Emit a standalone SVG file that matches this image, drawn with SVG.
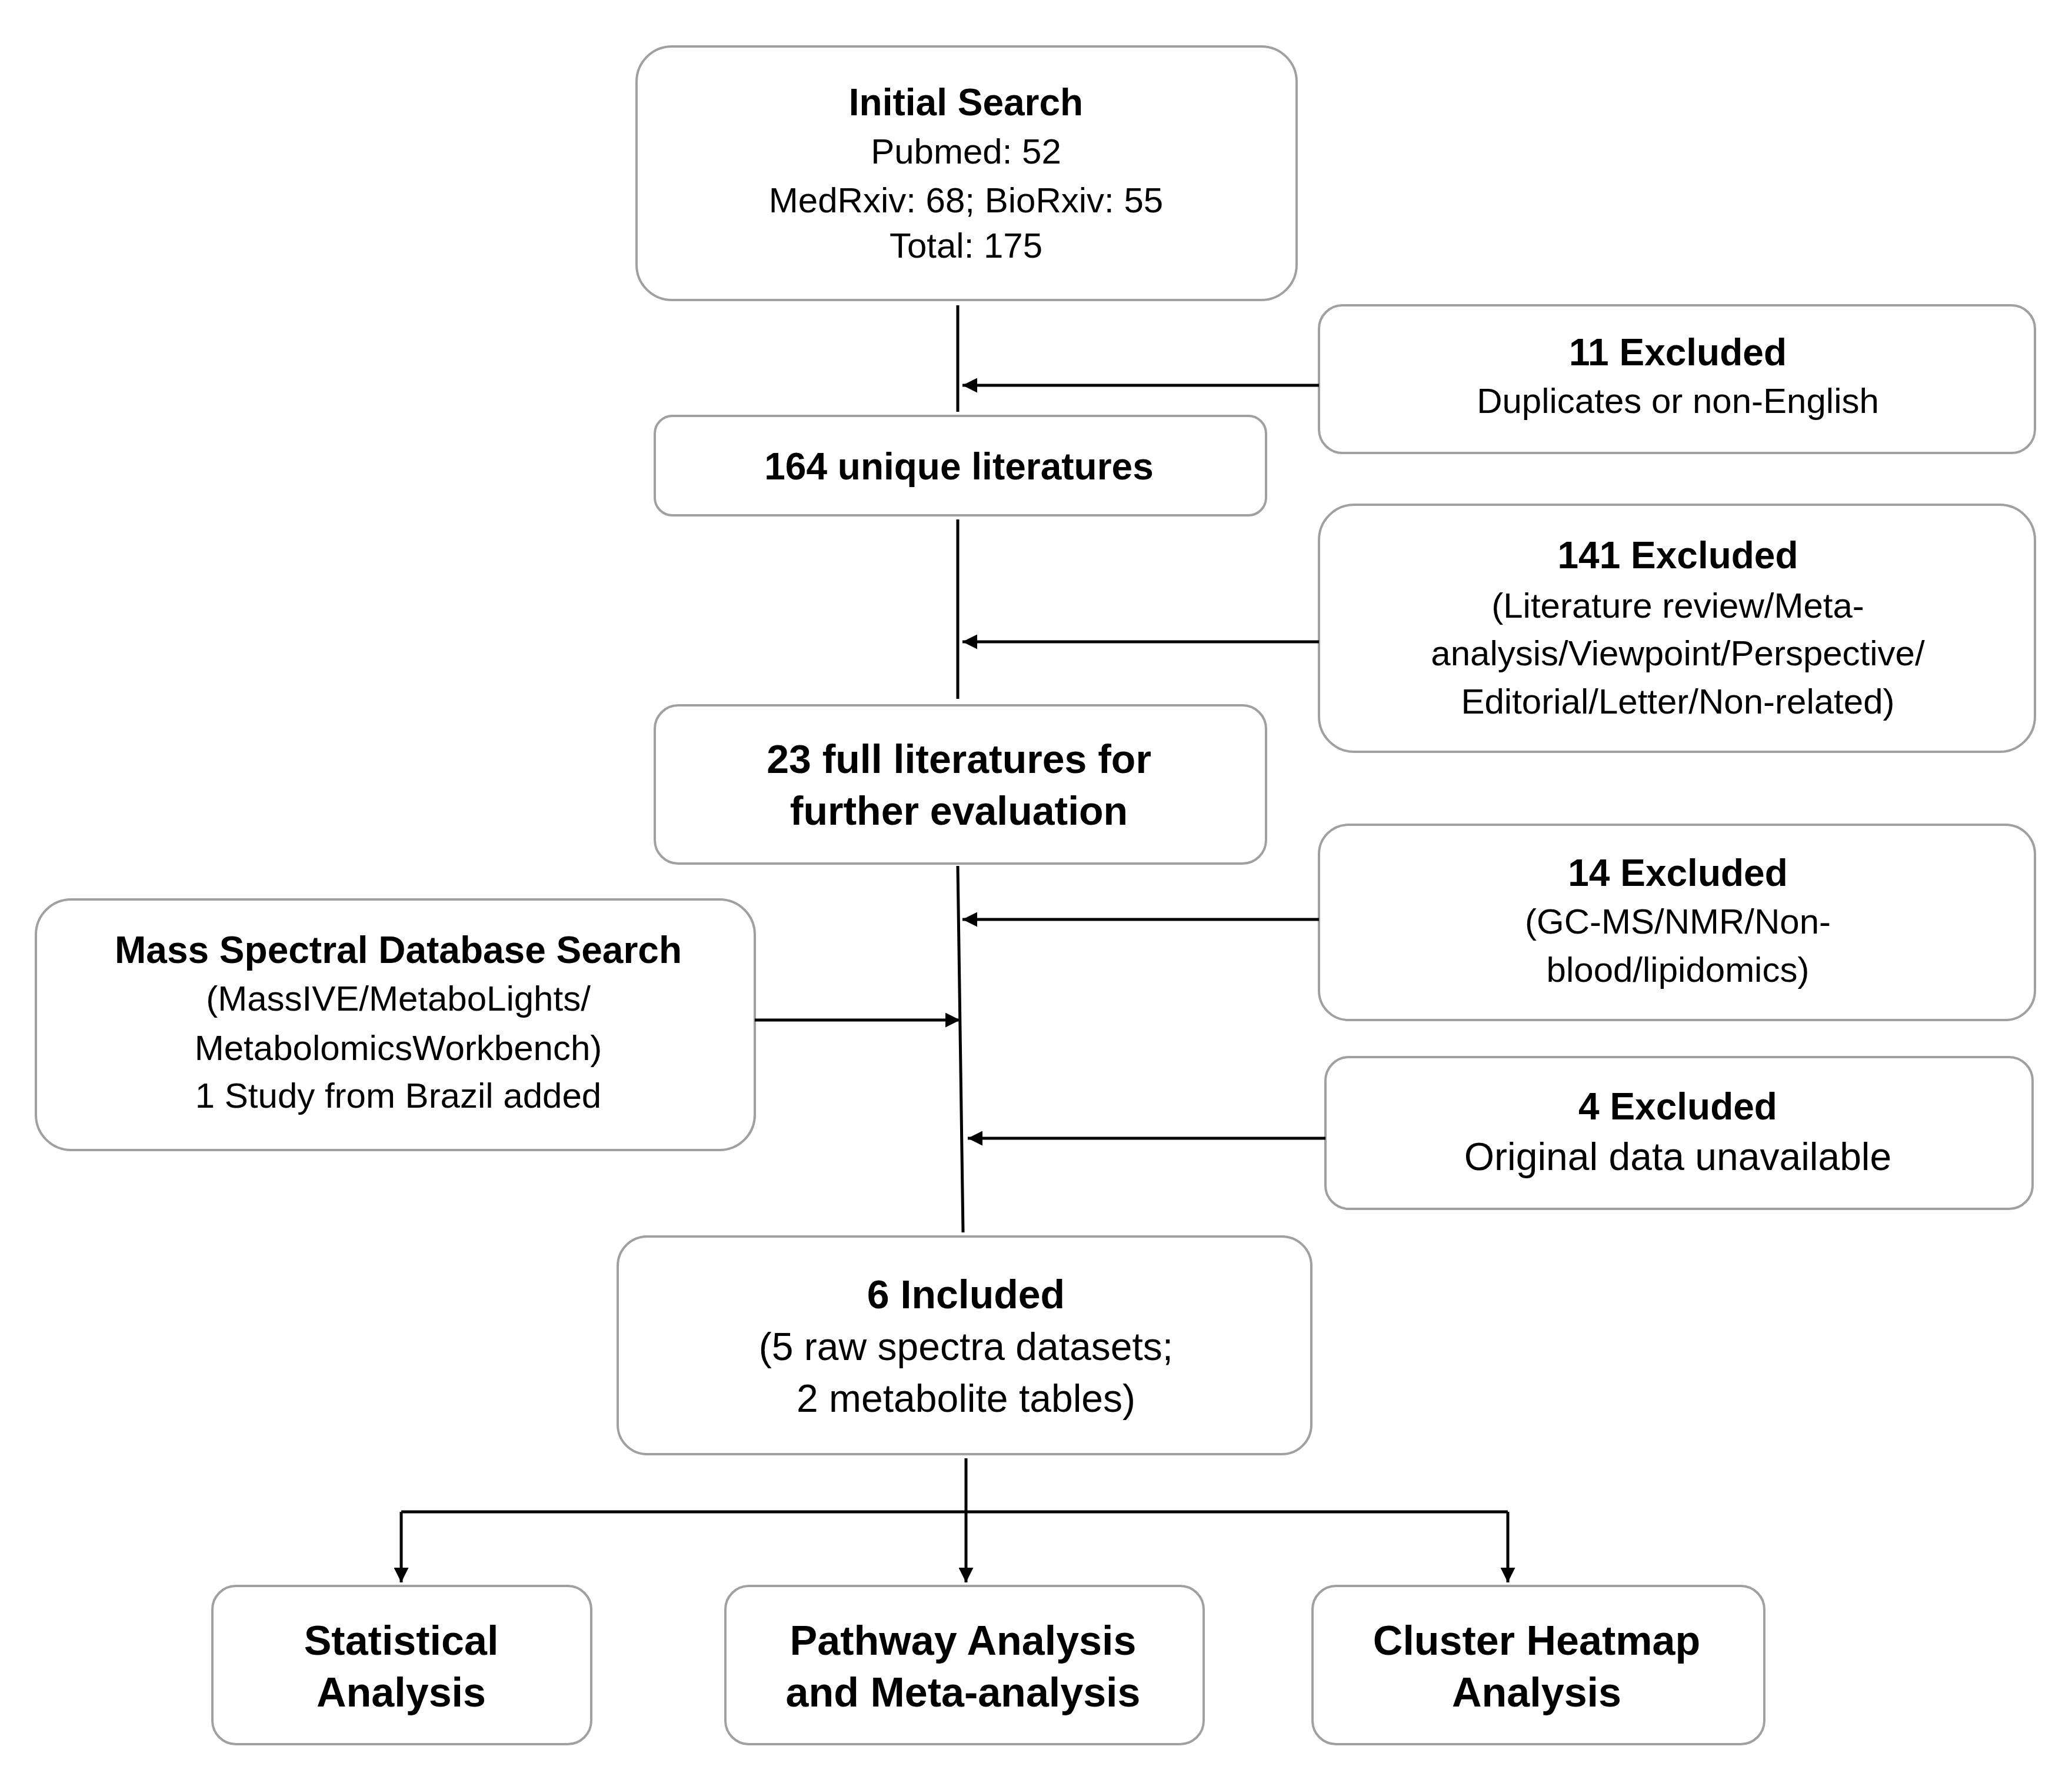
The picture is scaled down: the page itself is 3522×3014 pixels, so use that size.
<svg xmlns="http://www.w3.org/2000/svg" width="3522" height="3014" viewBox="0 0 3522 3014">
<style>
.b{fill:#fff;stroke:#a0a0a0;stroke-width:4}
text{font-family:"Liberation Sans",Arial,sans-serif;fill:#000;text-anchor:middle}
.t{font-weight:bold;font-size:64px}
.n{font-size:60px}
.c{stroke:#000;stroke-width:5;fill:none}
</style>
<defs><marker id="a" viewBox="0 0 10 10" refX="10" refY="5" markerWidth="10" markerHeight="10" markerUnits="userSpaceOnUse" orient="auto"><path d="M0,0L10,5L0,10z"/></marker>
<marker id="m" viewBox="0 0 10 10" refX="10" refY="5" markerWidth="5" markerHeight="5" orient="auto"><path d="M0,0L10,5L0,10z" fill="#000"/></marker></defs>
<g id="n1"><rect class="b" x="1082" y="79" width="1122" height="431" rx="60"/><text class="t" x="1642" y="196">Initial Search</text><text class="n" x="1642" y="278">Pubmed: 52</text><text class="n" x="1642" y="361">MedRxiv: 68; BioRxiv: 55</text><text class="n" x="1642" y="438">Total: 175</text></g>
<g id="n2"><rect class="b" x="2242" y="519" width="1217" height="251" rx="40"/><text class="t" x="2852" y="621">11 Excluded</text><text class="n" x="2852" y="702">Duplicates or non-English</text></g>
<g id="n3"><rect class="b" x="1113" y="707" width="1039" height="169" rx="30"/><text class="t" x="1630" y="815">164 unique literatures</text></g>
<g id="n4"><rect class="b" x="2242" y="858" width="1217" height="420" rx="60"/><text class="t" x="2852" y="966">141 Excluded</text><text class="n" x="2852" y="1050">(Literature review/Meta-</text><text class="n" x="2852" y="1131">analysis/Viewpoint/Perspective/</text><text class="n" x="2852" y="1213">Editorial/Letter/Non-related)</text></g>
<g id="n5"><rect class="b" x="1113" y="1199" width="1039" height="269" rx="40"/><text class="t" x="1630" y="1314" style="font-size:68px">23 full literatures for</text><text class="t" x="1630" y="1402" style="font-size:68px">further evaluation</text></g>
<g id="n6"><rect class="b" x="2242" y="1402" width="1217" height="332" rx="50"/><text class="t" x="2852" y="1506">14 Excluded</text><text class="n" x="2852" y="1587">(GC-MS/NMR/Non-</text><text class="n" x="2852" y="1669">blood/lipidomics)</text></g>
<g id="n7"><rect class="b" x="61" y="1529" width="1222" height="426" rx="60"/><text class="t" x="677" y="1637">Mass Spectral Database Search</text><text class="n" x="677" y="1718">(MassIVE/MetaboLights/</text><text class="n" x="677" y="1802">MetabolomicsWorkbench)</text><text class="n" x="677" y="1883">1 Study from Brazil added</text></g>
<g id="n8"><rect class="b" x="2253" y="1797" width="1202" height="258" rx="40"/><text class="t" x="2852" y="1903">4 Excluded</text><text class="n" x="2852" y="1989" style="font-size:66px">Original data unavailable</text></g>
<g id="n9"><rect class="b" x="1050" y="2102" width="1179" height="370" rx="50"/><text class="t" x="1642" y="2224" style="font-size:68px">6 Included</text><text class="n" x="1642" y="2312" style="font-size:66px">(5 raw spectra datasets;</text><text class="n" x="1642" y="2400" style="font-size:66px">2 metabolite tables)</text></g>
<g id="n10"><rect class="b" x="361" y="2696" width="644" height="269" rx="40"/><text class="t" x="682" y="2813" style="font-size:70px">Statistical</text><text class="t" x="682" y="2901" style="font-size:70px">Analysis</text></g>
<g id="n11"><rect class="b" x="1233" y="2696" width="813" height="269" rx="40"/><text class="t" x="1637" y="2813" style="font-size:70px">Pathway Analysis</text><text class="t" x="1637" y="2901" style="font-size:70px">and Meta-analysis</text></g>
<g id="n12"><rect class="b" x="2231" y="2696" width="768" height="269" rx="40"/><text class="t" x="2612" y="2813" style="font-size:70px">Cluster Heatmap</text><text class="t" x="2612" y="2901" style="font-size:70px">Analysis</text></g>
<g id="connectors">
<path class="c" d="M1628,519V700M1628,883V1188M1628,1472L1637,2095"/>
<path class="c" d="M2242,655H1636" marker-end="url(#m)"/>
<path class="c" d="M2242,1091H1636" marker-end="url(#m)"/>
<path class="c" d="M2242,1563H1636" marker-end="url(#m)"/>
<path class="c" d="M2253,1935H1645" marker-end="url(#m)"/>
<path class="c" d="M1283,1734H1632" marker-end="url(#m)"/>
<path class="c" d="M1642,2479V2570M682,2570H2563"/>
<path class="c" d="M682,2570V2690" marker-end="url(#m)"/>
<path class="c" d="M1642,2570V2690" marker-end="url(#m)"/>
<path class="c" d="M2563,2570V2690" marker-end="url(#m)"/>
</g>
</svg>
